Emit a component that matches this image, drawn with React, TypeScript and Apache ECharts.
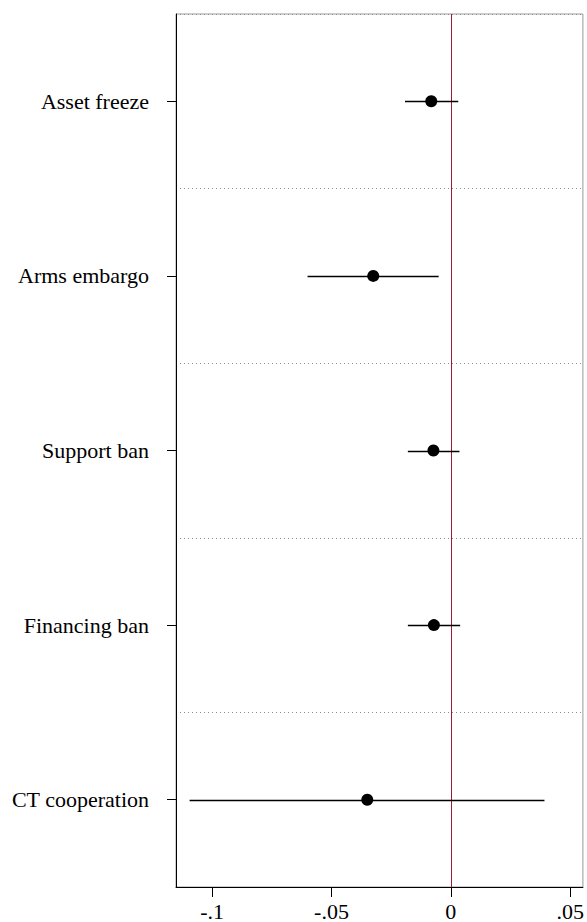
import React, { useEffect, useRef } from "react";
import * as echarts from "echarts";

const categories = ["Asset freeze", "Arms embargo", "Support ban", "Financing ban", "CT cooperation"];
const estimates = [-0.0082, -0.0325, -0.0073, -0.0071, -0.035];
const lower = [-0.0192, -0.06, -0.018, -0.018, -0.1094];
const upper = [0.0031, -0.0051, 0.0036, 0.0039, 0.0392];
const xTicks = [-0.1, -0.05, 0, 0.05];
const xTickLabels = ["-.1", "-.05", "0", ".05"];
const referenceLine = [0];

const FONT = "'Liberation Serif', 'Times New Roman', serif";

export default function App() {
  const ref = useRef<HTMLDivElement>(null);

  useEffect(() => {
    if (!ref.current) return;
    const chart = echarts.init(ref.current, null, { renderer: "svg" });
    const labelFor = (v: number) => {
      const i = xTicks.findIndex((t) => Math.abs(t - v) < 1e-9);
      return i >= 0 ? xTickLabels[i] : "";
    };
    chart.setOption({
      animation: false,
      backgroundColor: "#fff",
      grid: {
        left: 176,
        right: 1,
        top: 14,
        bottom: 33,
        show: true,
        borderColor: "#9a9a9a",
        borderWidth: 1,
        backgroundColor: "#fff",
      },
      xAxis: {
        type: "value",
        min: -0.1151,
        max: 0.0553,
        axisLine: { show: true, onZero: false, lineStyle: { color: "#000", width: 1 } },
        axisTick: { show: true, length: 10, customValues: xTicks, lineStyle: { color: "#000" } },
        axisLabel: {
          show: true,
          customValues: xTicks,
          formatter: (v: number) => labelFor(v),
          fontFamily: FONT,
          fontSize: 22,
          color: "#000",
          margin: 13,
        },
        splitLine: { show: false },
      },
      yAxis: {
        type: "category",
        data: categories,
        inverse: true,
        boundaryGap: true,
        axisLine: { show: true, onZero: false, lineStyle: { color: "#000", width: 1 } },
        axisTick: { show: true, length: 9, alignWithLabel: true, lineStyle: { color: "#000" } },
        axisLabel: {
          fontFamily: FONT,
          fontSize: 22,
          color: "#000",
          margin: 27,
        },
        splitLine: {
          show: true,
          lineStyle: { color: "#8c8c8c", width: 1, type: [1, 3] },
        },
      },
      series: [
        {
          type: "custom",
          z: 1,
          data: referenceLine.map((v) => [v]),
          encode: { x: 0 },
          renderItem: (params: any, api: any) => {
            const cs = params.coordSys;
            const p = api.coord([api.value(0), 0]);
            const x = Math.round(p[0]) + 0.5;
            return {
              type: "line",
              shape: { x1: x, y1: cs.y, x2: x, y2: cs.y + cs.height },
              style: { stroke: "#9e1c33", lineWidth: 1 },
            };
          },
        },
        {
          type: "custom",
          z: 3,
          data: categories.map((_, i) => [lower[i], upper[i], i]),
          encode: { x: [0, 1], y: 2 },
          renderItem: (params: any, api: any) => {
            const a = api.coord([api.value(0), api.value(2)]);
            const b = api.coord([api.value(1), api.value(2)]);
            const y = Math.round(a[1]) + 0.5;
            return {
              type: "line",
              shape: { x1: a[0], y1: y, x2: b[0], y2: y },
              style: { stroke: "#000", lineWidth: 1.3 },
            };
          },
        },
        {
          type: "scatter",
          z: 4,
          symbol: "circle",
          symbolSize: 12,
          itemStyle: { color: "#000", opacity: 1 },
          data: estimates.map((v, i) => [v, i]),
        },
      ],
    });
    return () => chart.dispose();
  }, []);

  return (
    <div
      ref={ref}
      style={{ position: "fixed", left: 0, top: 0, width: 587, height: 922, background: "#fff" }}
    />
  );
}
